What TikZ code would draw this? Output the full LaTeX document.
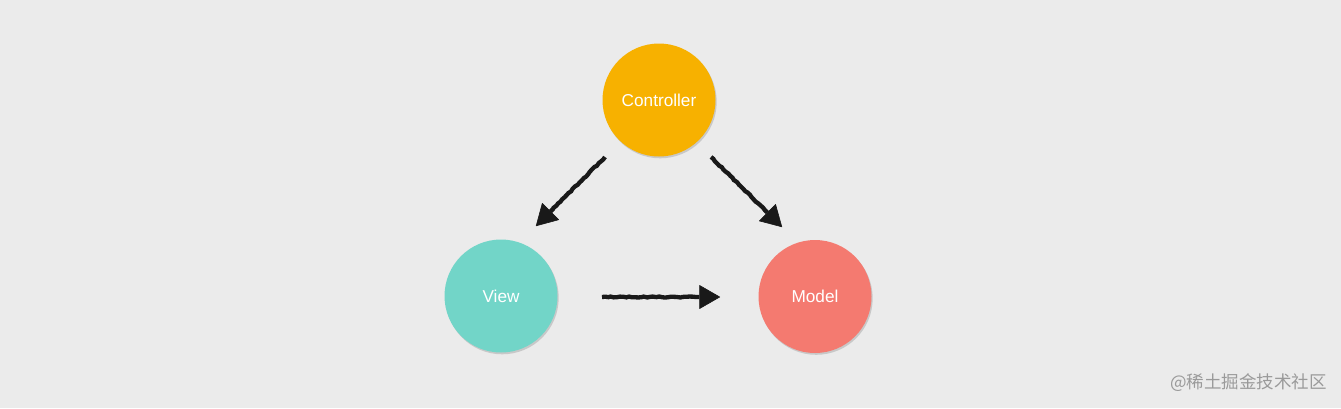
\documentclass[tikz,border=0pt]{standalone}
\usepackage{fontspec}
\setmainfont{Liberation Sans}
\newfontfamily\cjk{Noto Sans CJK SC}
\usetikzlibrary{arrows.meta,shadows,decorations.pathmorphing}
\definecolor{bgc}{HTML}{EBEBEB}
\definecolor{ctrlc}{HTML}{F7B100}
\definecolor{viewc}{HTML}{72D5C8}
\definecolor{modelc}{HTML}{F47A70}
\definecolor{wmc}{HTML}{9A9A9A}
\tikzset{
  mvc/.style={circle, minimum size=113pt, inner sep=0pt, text=white,
    font=\fontsize{17.2}{19}\selectfont,
    drop shadow={shadow xshift=1.2pt, shadow yshift=-1.8pt, opacity=0.22, fill=black!70}},
  sketch/.style={line width=4.3pt, black!90,
    -{Triangle[length=21pt,width=24pt,line width=0.6pt,round]},
    decorate, decoration={random steps, segment length=3pt, amplitude=0.5pt, post length=24pt}},
}
\begin{document}
\begin{tikzpicture}[x=1pt,y=-1pt]
\fill[bgc] (0,0) rectangle (1341,408);
\useasboundingbox (0,0) rectangle (1341,408);
\node[mvc, fill=ctrlc] (ctrl) at (659,100) {Controller};
\node[mvc, fill=viewc] (view) at (501,296) {View};
\node[mvc, fill=modelc] (model) at (815,296.5) {Model};
\coordinate (a1s) at (605,157);
\coordinate (a1e) at (536,226);
\coordinate (a2s) at (711,157);
\coordinate (a2e) at (782,227);
\coordinate (a3s) at (602,297);
\coordinate (a3e) at (720,297);
\draw[sketch] (a1s) -- (a1e);
\draw[sketch] (a2s) -- (a2e);
\draw[sketch] (a3s) -- (a3e);
\node[text=wmc, font=\cjk\fontsize{17.5}{19}\selectfont, anchor=east, inner sep=0pt] (wm) at (1327,383) {@稀土掘金技术社区};
\end{tikzpicture}
\end{document}
